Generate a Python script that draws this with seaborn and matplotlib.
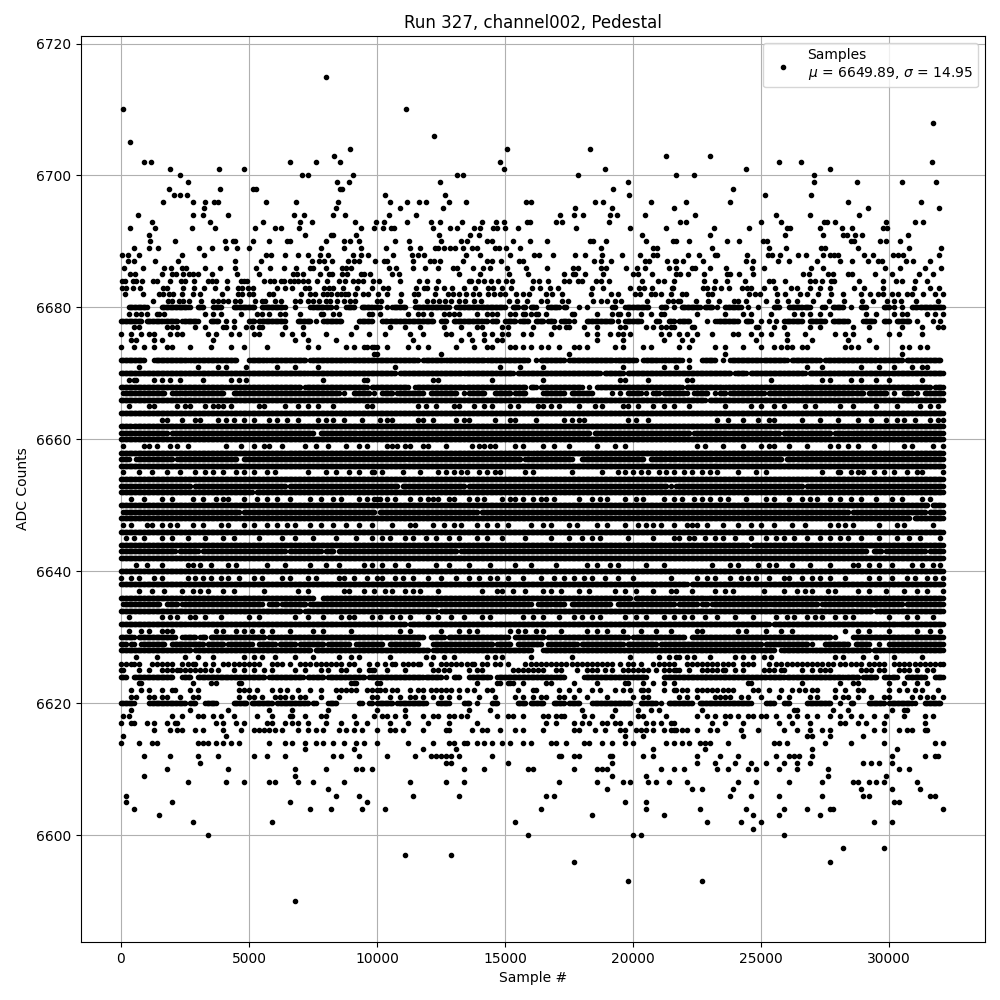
import numpy as np
import pandas as pd
import matplotlib
matplotlib.use("Agg")
import matplotlib.pyplot as plt
import seaborn as sns

# The original holds about 32000 samples. All values below are estimates read
# from the picture: isolated points per ADC level, and for the saturated bands
# the stretches of sample numbers each level covers (in hundreds of samples).
# Individual samples inside a band cannot be told apart, so a band is drawn as
# evenly spaced samples across its stretch.

TITLE = "Run 327, channel002, Pedestal"
XLABEL = "Sample #"
YLABEL = "ADC Counts"
LEGEND = "Samples\n$\\mu$ = 6649.89, $\\sigma$ = 14.95"

# --- isolated samples, sample numbers ---
pts_6715 = [8010]
pts_6710 = [80, 11130]
pts_6708 = [31720]
pts_6706 = [12230]
pts_6705 = [350]
pts_6704 = [8950, 15080, 18320]
pts_6703 = [8320, 21290, 23010]
pts_6702 = [900, 1170, 6600, 7620, 8560, 14800, 25700, 26560, 31680]
pts_6701 = [1910, 3830, 4800, 14960, 18910, 24410, 27700]
pts_6700 = [2300, 7070, 7300, 9060, 13120, 13360, 17850, 21680, 22380, 27070]
pts_6699 = [2620, 8440, 8910, 12460, 19800, 27070, 28750, 30510, 31840]
pts_6698 = [1880, 3870, 5160, 5290, 8560, 8640, 19220, 23910]
pts_6697 = [2070, 2300, 2580, 10310, 12660, 19840, 25160, 26950]
pts_6696 = [1640, 2820, 3280, 3640, 3790, 5670, 6840, 8480, 10510, 11170, 11640, 11910, 12810, 13480, 15820, 16020,
            18510, 18830, 20700, 22070, 23790, 28400, 31250]
pts_6695 = [3240, 8400, 10900, 12580, 17730, 19180, 21600, 29180, 31950]
pts_6694 = [670, 2820, 3210, 4190, 6760, 7150, 8300, 8760, 10470, 11520, 17150, 17680, 18040, 19100, 19370, 20470,
            22420, 25590, 26910, 28830]
pts_6693 = [1210, 3480, 5550, 7000, 7470, 9150, 9970, 10270, 11170, 12110, 12460, 13320, 14100, 14650, 14960, 15860,
            15980, 16990, 17230, 19060, 21840, 22070, 25000, 25780, 27460, 27580, 27890, 29880, 31020, 31330]
pts_6692 = [350, 1330, 2780, 3680, 5240, 6020, 6250, 6960, 9390, 9890, 10230, 10550, 10660, 12190, 12850, 13120, 13790,
            14020, 14520, 14690, 15000, 15510, 17770, 19880, 21290, 23160, 24530, 26020, 26130, 27300, 28160, 28550,
            29770, 29920]
pts_6691 = [1090, 7200, 8210, 8290, 9190, 12420, 13630, 13980, 20350, 23010, 25940, 27420, 28200, 28360, 28670, 28940,
            30740]
pts_6690 = [1130, 2110, 4070, 4380, 4460, 5160, 5790, 6490, 6600, 8010, 8720, 8950, 9300, 10700, 11250, 12500, 13280,
            13520, 14300, 14490, 15310, 15980, 16640, 18320, 18440, 18950, 20510, 21560, 21680, 22190, 23670, 24140,
            25080, 25230, 28520, 28630, 29650, 29880, 30430]
pts_6689 = [510, 1090, 1450, 3050, 3560, 4100, 4540, 5000, 7820, 8720, 9390, 10350, 11290, 11680, 12270, 12380, 12620,
            12850, 13050, 13360, 13710, 13910, 14610, 14770, 15040, 15590, 18750, 20780, 20940, 23090, 25310, 25980,
            27340, 27500, 28790, 30780, 32030]
pts_6688 = [40, 270, 700, 2380, 3240, 5670, 5860, 6410, 6920, 7310, 7780, 8090, 9060, 9390, 9660, 10620, 11370, 11600,
            11840, 13480, 14020, 15200, 16130, 16330, 16870, 17730, 18120, 18790, 19570, 20270, 20780, 20940, 22150,
            22580, 23200, 23280, 24450, 25270, 25430, 25740, 26450, 26760, 27420, 27700, 27850, 28010, 29020, 29370,
            30160, 30350, 30550, 31950]
pts_6687 = [270, 510, 1330, 2230, 4460, 5470, 7470, 7740, 7930, 8250, 8870, 9110, 9300, 9930, 10270, 10390, 11410,
            12070, 12230, 12460, 13360, 14300, 14490, 14840, 15550, 15700, 18480, 18750, 19140, 20470, 20630, 21330,
            21680, 21640, 21950, 22730, 24410, 24690, 25660, 26090, 27190, 28090, 28550, 29180, 29570, 29730, 30660,
            30940, 31600]
pts_6686 = [120, 860, 1680, 1950, 2380, 2550, 3280, 3870, 4460, 5280, 5820, 6370, 6840, 7380, 7500, 8010, 8640, 8790,
            8990, 10470, 10740, 11410, 11870, 12380, 12970, 13120, 13750, 14140, 14410, 15080, 15820, 16640, 17660,
            17850, 18750, 18950, 19730, 20160, 20470, 21400, 21680, 22300, 22420, 23010, 23630, 24650, 25120, 26950,
            27420, 29840, 30430, 31400, 32030]
pts_6685 = [350, 550, 1600, 1990, 2150, 2420, 2660, 2820, 3010, 3560, 4530, 5390, 6720, 6880, 7110, 7780, 8130, 8250,
            8640, 8830, 9390, 9500, 9730, 10590, 10860, 13200, 14020, 15160, 15900, 17300, 17660, 17730, 18120, 18830,
            20000, 20190, 20740, 21680, 21840, 22150, 22770, 23670, 23790, 24140, 24690, 26640, 26870, 27620, 27810,
            28400, 28550, 29450, 30120, 31170, 31720]
pts_6684 = [40, 160, 470, 600, 820, 1250, 1410, 1910, 2340, 2500, 2850, 3400, 3560, 3710, 4140, 4690, 4800, 4920, 5590,
            5820, 5980, 6250, 6370, 6600, 6760, 6920, 7110, 7310, 7660, 8050, 8520, 8740, 9060, 9260, 9460, 9850, 10080,
            10900, 11640, 11950, 12380, 13590, 13670, 13950, 14180, 14450, 14730, 15040, 15270, 16090, 16330, 16680,
            17300, 17500, 17850, 18010, 18550, 18750, 19060, 20350, 20980, 21210, 21600, 22770, 23200, 23670, 24380,
            25310, 25470, 25940, 26910, 27110, 27380, 27730, 27850, 28830, 29770, 30270, 30510, 31020, 31480]
pts_6683 = [40, 200, 470, 740, 1640, 1800, 2420, 2850, 3240, 3680, 4140, 4570, 4730, 4960, 5160, 6090, 6410, 6680, 7190,
            7350, 7930, 8130, 8280, 8680, 9220, 9810, 10230, 10430, 11520, 11840, 11950, 12300, 12620, 12930, 13400,
            13830, 14340, 14530, 14880, 15230, 16050, 16370, 16760, 17070, 18400, 18830, 19880, 20230, 20430, 20740,
            21520, 21560, 22730, 22890, 23160, 23440, 23750, 24260, 24450, 24610, 25120, 25550, 26170, 26410, 26910,
            27300, 27700, 28630, 29020, 29770, 30980, 31600, 31950]
pts_6682 = [160, 860, 1490, 1640, 1880, 2030, 2380, 2820, 3090, 3950, 4570, 4730, 5000, 5160, 5790, 5940, 7030, 7380,
            7580, 7890, 8050, 8210, 8440, 8600, 8760, 8870, 9150, 9460, 9660, 10040, 10390, 10940, 11450, 11600, 12270,
            12770, 12970, 13200, 13480, 13750, 13980, 14340, 14570, 14800, 15000, 15430, 15700, 15940, 16600, 16840,
            17230, 18360, 19140, 19410, 20080, 20270, 20700, 20860, 21100, 21480, 21910, 22070, 22930, 23090, 24530,
            24770, 24960, 25620, 25940, 26520, 26800, 27230, 27730, 28200, 28910, 29260, 29570, 29770, 30120, 30350,
            30700, 30900, 31330, 31800, 32110]
pts_6681 = [1250, 1840, 1990, 2270, 2420, 2660, 3130, 3600, 3790, 3990, 4190, 4460, 4650, 5240, 5510, 5630, 6020, 6250,
            6800, 7000, 7310, 7500, 7740, 8010, 8170, 8440, 8720, 8950, 9150, 10000, 10160, 10900, 11480, 11950, 12190,
            12420, 12660, 12890, 13200, 13440, 13790, 14060, 15160, 15470, 15860, 16410, 16640, 17230, 17460, 18440,
            18750, 18980, 19300, 19530, 20550, 21370, 21560, 21760, 21840, 22460, 22930, 23360, 23950, 24100, 24410,
            25200, 25620, 26050, 26410, 27030, 27660, 28240, 28940, 29370, 29920, 30200, 30470, 31050, 31910]

# --- isolated samples, in hundreds of samples ---
hun_6679 = [3, 6, 8, 10, 14, 15, 17, 33, 36, 39, 47, 53, 55, 58, 62, 64, 70, 78, 79, 83, 85, 97, 98, 101, 112, 116, 118,
            121, 126, 128, 130, 132, 139, 143, 145, 147, 152, 154, 157, 158, 160, 162, 163, 166, 176, 177, 186, 192,
            194, 195, 198, 203, 207, 211, 212, 225, 236, 243, 246, 254, 263, 266, 269, 273, 277, 291, 295, 302, 305,
            307, 315, 318, 321]
hun_6677 = [5, 7, 18, 20, 22, 29, 33, 40, 41, 44, 49, 51, 54, 55, 64, 71, 92, 105, 111, 117, 126, 133, 139, 141, 149,
            151, 161, 169, 171, 174, 175, 181, 186, 195, 197, 205, 208, 211, 213, 216, 215, 223, 224, 248, 249, 255,
            259, 269, 273, 286, 292, 305, 313, 319, 321]
hun_6676 = [0, 4, 8, 11, 13, 19, 22, 24, 34, 37, 43, 46, 52, 54, 63, 67, 71, 80, 90, 97, 103, 113, 118, 127, 129, 136,
            142, 145, 149, 151, 157, 160, 168, 182, 186, 191, 194, 196, 199, 211, 214, 218, 221, 225, 231, 239, 241,
            246, 250, 254, 260, 267, 279, 283, 286, 300, 304, 313]
hun_6675 = [4, 6, 13, 16, 36, 68, 73, 84, 114, 133, 137, 142, 147, 149, 186, 196, 212, 219, 223, 248, 260, 270, 284, 292]
hun_6674 = [0, 5, 9, 13, 18, 20, 27, 35, 43, 48, 57, 73, 77, 88, 91, 95, 96, 98, 100, 99, 104, 112, 116, 120, 131, 138,
            143, 145, 152, 154, 157, 160, 164, 167, 171, 177, 179, 182, 193, 196, 204, 207, 218, 222, 232, 236, 243,
            250, 255, 258, 260, 262, 266, 268, 283, 285, 288, 295, 305, 308, 312, 315]
hun_6673 = [99, 100, 125, 175, 236, 305]
hun_6671 = [7, 30, 38, 41, 49, 61, 68, 77, 107, 148, 156, 165, 196, 212, 217, 222, 268, 274, 289, 296, 302, 309, 313, 315]
hun_6669 = [3, 5, 6, 13, 16, 19, 23, 32, 43, 46, 49, 79, 95, 96, 122, 124, 145, 165, 195, 197, 206, 221, 223, 254, 274,
            277, 285, 289, 295, 300, 313]
hun_6665 = [3, 11, 13, 22, 25, 27, 33, 36, 38, 40, 43, 54, 56, 64, 69, 73, 77, 83, 96, 98, 116, 119, 123, 130, 132, 138,
            142, 145, 152, 155, 163, 165, 168, 171, 179, 185, 188, 196, 198, 202, 208, 212, 216, 222, 236, 246, 250,
            255, 259, 267, 271, 281, 286, 295, 303, 312, 316, 319]
hun_6663 = [16, 18, 24, 29, 31, 38, 41, 44, 48, 52, 58, 61, 65, 69, 77, 80, 83, 87, 94, 101, 104, 106, 116, 118, 122,
            131, 134, 136, 146, 152, 154, 162, 173, 176, 179, 181, 198, 201, 206, 233, 237, 243, 249, 253, 255, 266,
            273, 280, 288, 293, 299, 303, 306, 310, 316, 319, 321]
hun_6659 = [1, 9, 11, 14, 19, 22, 26, 41, 47, 52, 56, 58, 63, 72, 76, 81, 88, 93, 96, 104, 106, 108, 111, 113, 118, 120,
            127, 137, 140, 142, 144, 146, 154, 157, 165, 169, 175, 186, 193, 197, 225, 228, 235, 243, 250, 253, 255,
            261, 268, 277, 280, 284, 288, 294, 306, 309, 317, 321]
hun_6655 = [1, 7, 12, 18, 23, 29, 33, 36, 40, 45, 48, 52, 57, 60, 73, 80, 84, 89, 93, 98, 99, 102, 110, 117, 124, 127,
            130, 133, 135, 140, 143, 146, 148, 158, 161, 176, 188, 194, 197, 200, 203, 206, 210, 213, 216, 220, 223,
            227, 230, 233, 241, 248, 252, 274, 280, 281, 285, 288, 290, 294, 298, 302, 307, 311, 313, 321]
hun_6651 = [4, 9, 16, 20, 28, 32, 37, 40, 42, 48, 53, 57, 61, 66, 74, 78, 83, 86, 93, 96, 100, 99, 101, 104, 107, 113,
            117, 120, 122, 124, 128, 130, 136, 139, 142, 149, 152, 154, 157, 161, 164, 166, 169, 179, 184, 187, 190,
            197, 201, 204, 212, 216, 219, 224, 227, 230, 234, 237, 244, 252, 255, 261, 266, 269, 272, 277, 281, 285,
            289, 295, 301, 305, 313, 316]
hun_6647 = [1, 4, 10, 12, 16, 19, 22, 28, 32, 39, 42, 48, 52, 57, 61, 65, 68, 74, 78, 83, 88, 93, 98, 106, 113, 115, 122,
            126, 130, 133, 139, 143, 147, 151, 160, 165, 168, 175, 178, 186, 190, 197, 202, 205, 208, 211, 216, 221,
            223, 225, 229, 235, 241, 246, 250, 255, 262, 267, 277, 280, 283, 286, 296, 303, 306, 317]
hun_6645 = [2, 5, 9, 16, 20, 26, 33, 40, 44, 54, 63, 68, 75, 84, 92, 98, 102, 105, 111, 114, 119, 123, 128, 132, 139,
            143, 149, 158, 168, 175, 180, 184, 187, 198, 208, 216, 218, 222, 224, 228, 232, 235, 240, 246, 252, 256,
            259, 263, 268, 273, 277, 281, 284, 289, 296, 303, 308, 312, 320]
hun_6641 = [6, 10, 16, 26, 28, 31, 35, 42, 45, 57, 64, 74, 80, 85, 95, 98, 102, 107, 112, 123, 128, 136, 144, 154, 160,
            170, 182, 186, 191, 194, 205, 212, 231, 238, 241, 249, 253, 256, 262, 269, 277, 286, 288, 292, 296, 301,
            309, 313, 317, 320]
hun_6639 = [0, 4, 7, 13, 16, 26, 29, 32, 35, 39, 42, 46, 52, 55, 63, 66, 73, 76, 85, 87, 91, 96, 100, 102, 107, 110, 114,
            120, 125, 131, 136, 140, 144, 147, 151, 157, 164, 169, 173, 177, 181, 184, 189, 194, 200, 215, 225, 229,
            232, 238, 242, 245, 248, 253, 259, 261, 266, 270, 273, 277, 283, 292, 296, 301, 307, 310, 315, 318, 321]
hun_6637 = [7, 12, 17, 24, 28, 31, 34, 40, 44, 56, 69, 73, 87, 89, 95, 99, 103, 106, 111, 114, 117, 124, 141, 147, 149,
            153, 158, 165, 168, 172, 179, 183, 193, 197, 201, 208, 215, 217, 223, 232, 236, 239, 251, 259, 264, 267,
            270, 276, 279, 288, 292, 299, 306, 311, 315, 321]
hun_6633 = [3, 16, 19, 22, 27, 29, 33, 39, 50, 54, 68, 73, 79, 86, 89, 91, 98, 101, 106, 109, 113, 120, 124, 129, 134,
            141, 144, 157, 161, 165, 171, 177, 180, 184, 187, 197, 201, 205, 212, 216, 220, 223, 228, 233, 240, 247,
            256, 260, 263, 268, 271, 274, 279, 283, 286, 300, 307, 311, 317]
hun_6631 = [3, 8, 11, 16, 18, 20, 37, 40, 45, 48, 51, 55, 59, 66, 75, 79, 90, 109, 113, 125, 132, 136, 139, 152, 155,
            158, 162, 165, 172, 182, 186, 190, 196, 203, 209, 215, 225, 227, 241, 244, 252, 258, 262, 283, 288, 292,
            300, 311, 316, 320]
hun_6627 = [6, 14, 25, 30, 36, 48, 52, 55, 60, 68, 75, 85, 90, 93, 105, 119, 122, 126, 130, 143, 146, 149, 160, 176, 199,
            210, 214, 217, 218, 221, 224, 230, 240, 243, 247, 251, 254, 279, 282, 290, 295, 302, 313]
hun_6626 = [0, 2, 4, 5, 7, 12, 14, 16, 18, 20, 24, 26, 28, 29, 33, 36, 40, 42, 44, 46, 48, 50, 52, 54, 59, 61, 63, 66, 70,
            72, 74, 76, 78, 80, 82, 84, 86, 89, 91, 97, 100, 103, 106, 107, 110, 112, 114, 116, 117, 121, 125, 127, 129,
            131, 133, 135, 137, 138, 141, 143, 146, 148, 151, 158, 160, 162, 164, 166, 168, 170, 172, 174, 176, 178,
            180, 182, 184, 186, 188, 190, 192, 195, 198, 200, 203, 208, 210, 212, 214, 216, 221, 223, 225, 227, 229,
            231, 233, 235, 237, 239, 243, 245, 247, 253, 256, 258, 260, 262, 264, 266, 268, 270, 272, 274, 276, 278,
            281, 283, 285, 287, 289, 292, 294, 296, 298, 302, 304, 306, 308, 310, 312, 314, 316, 318, 320, 321]
hun_6625 = [0, 1, 7, 11, 16, 18, 20, 22, 23, 25, 27, 29, 31, 33, 35, 38, 44, 48, 52, 56, 59, 68, 72, 78, 81, 86, 88, 93,
            98, 97, 99, 104, 111, 122, 124, 126, 128, 136, 139, 141, 153, 155, 157, 159, 161, 163, 165, 170, 172, 178,
            182, 184, 186, 189, 192, 196, 198, 200, 202, 204, 206, 209, 212, 214, 217, 216, 218, 222, 227, 229, 231,
            233, 235, 236, 240, 243, 251, 253, 255, 258, 259, 266, 270, 273, 275, 277, 289, 291, 293, 296, 298, 304,
            306, 308, 311, 315, 317]
hun_6623 = [7, 8, 28, 35, 37, 46, 47, 90, 91, 92, 100, 101, 139, 147, 148, 151, 152, 153, 157, 166, 168, 177, 186, 197,
            198, 204, 208, 212, 216, 245, 246, 266, 281, 286, 288, 300, 306, 311, 315]
hun_6622 = [4, 8, 11, 16, 20, 21, 27, 30, 46, 48, 50, 53, 59, 62, 65, 69, 74, 78, 84, 86, 88, 90, 92, 96, 98, 101, 100,
            103, 106, 108, 113, 116, 118, 121, 123, 125, 127, 129, 132, 135, 138, 143, 145, 155, 161, 162, 171, 175,
            179, 184, 187, 193, 196, 199, 203, 204, 206, 212, 216, 217, 219, 221, 225, 227, 229, 231, 233, 235, 237,
            239, 247, 249, 253, 258, 262, 265, 267, 270, 272, 279, 283, 288, 290, 300, 304, 307, 310, 313, 319]
hun_6621 = [4, 6, 11, 13, 16, 18, 23, 28, 30, 46, 50, 52, 55, 60, 62, 64, 67, 70, 72, 78, 85, 98, 100, 105, 109, 113,
            115, 118, 122, 125, 128, 132, 140, 146, 154, 157, 161, 164, 166, 171, 173, 177, 182, 190, 200, 204, 206,
            218, 221, 225, 232, 234, 236, 238, 242, 245, 250, 257, 261, 269, 272, 279, 282, 284, 288, 293, 298, 300,
            309, 312, 315, 317, 321]
hun_6619 = [4, 27, 42, 58, 67, 81, 100, 111, 136, 144, 180, 193, 202, 207, 210, 227, 263, 264, 278, 284, 301, 306, 307]
hun_6618 = [1, 3, 20, 24, 30, 32, 36, 39, 44, 53, 59, 66, 67, 72, 78, 80, 91, 99, 102, 104, 107, 111, 118, 122, 124, 128,
            130, 133, 135, 147, 151, 153, 157, 165, 167, 170, 172, 173, 181, 184, 192, 202, 204, 213, 225, 229, 232,
            236, 238, 241, 245, 247, 250, 252, 256, 261, 264, 268, 272, 277, 281, 285, 289, 294, 299, 306, 314, 317]
hun_6617 = [0, 4, 5, 10, 13, 18, 21, 22, 37, 40, 45, 48, 57, 59, 64, 67, 69, 73, 80, 86, 92, 96, 105, 112, 120, 128, 139,
            166, 170, 177, 180, 183, 188, 190, 193, 195, 199, 205, 208, 211, 215, 216, 231, 236, 243, 257, 262, 269,
            281, 283, 288, 291, 298, 314]
hun_6616 = [13, 19, 22, 24, 29, 32, 40, 47, 52, 54, 56, 58, 60, 63, 69, 73, 76, 79, 85, 88, 91, 94, 100, 105, 107, 110,
            118, 127, 128, 137, 141, 143, 148, 154, 157, 165, 177, 179, 185, 189, 195, 197, 201, 203, 205, 208, 212,
            216, 215, 217, 219, 221, 225, 230, 233, 242, 249, 259, 264, 269, 274, 277, 294, 298, 304, 307, 309, 314, 315]
hun_6615 = [1, 41, 197, 204, 243, 268, 270, 277, 290]
hun_6614 = [0, 7, 12, 14, 30, 32, 34, 37, 40, 43, 46, 58, 64, 67, 72, 76, 79, 83, 87, 92, 95, 100, 112, 122, 128, 130,
            134, 135, 139, 142, 145, 149, 152, 157, 160, 168, 170, 174, 181, 183, 188, 192, 197, 200, 213, 216, 219,
            222, 226, 228, 230, 237, 255, 257, 260, 275, 285, 298, 318, 321]
hun_6613 = [72, 91, 118, 131, 208, 228, 270, 303]
hun_6612 = [9, 19, 30, 38, 52, 57, 64, 83, 86, 93, 104, 115, 121, 123, 125, 127, 129, 132, 145, 171, 172, 177, 179, 191,
            192, 204, 208, 225, 234, 241, 256, 261, 263, 265, 270, 301, 314, 318, 319]
hun_6611 = [31, 127, 129, 151, 192, 225, 232, 240, 246, 252, 259, 264, 269, 290, 293, 296, 301]
hun_6610 = [18, 42, 68, 80, 92, 94, 98, 134, 142, 159, 161, 177, 186, 188, 190, 211, 216, 220, 233, 237, 245, 248, 257,
            264, 276, 304, 308]
hun_6609 = [9, 68, 192, 205, 276, 299]
hun_6608 = [26, 41, 48, 58, 60, 69, 75, 87, 113, 127, 134, 171, 186, 196, 199, 206, 209, 214, 221, 241, 248, 261, 274,
            286, 288, 292, 295, 298, 311]
hun_6607 = [81, 190, 223, 227, 239, 289, 301, 312]
hun_6606 = [2, 84, 93, 114, 132, 166, 169, 238, 246, 257, 274, 290, 292, 316, 318]
hun_6605 = [2, 20, 66, 96, 197, 205, 302, 304]
hun_6604 = [5, 74, 82, 94, 103, 164, 205, 226, 244, 259, 268, 277, 278, 321]
hun_6603 = [15, 184, 212, 247, 257, 273]
hun_6602 = [28, 59, 154, 229, 242, 250, 294, 301]
hun_6601 = [247]
hun_6600 = [34, 159, 200, 203, 259]
hun_6598 = [282, 298]
hun_6597 = [111, 129]
hun_6596 = [177, 277]
hun_6593 = [198, 227]
hun_6590 = [68]

# --- stretches of sample numbers per level, in hundreds of samples ---
run_6680 = [(3,10),(16,26),(27,27),(30,32),(36,39),(44,52),(55,63),(64,64),(68,68),(74,79),(80,82),(84,84),(88,91),(94,98),
            (99,101),(104,104),(106,111),(115,128),(131,150),(153,155),(157,158),(160,162),(167,171),(173,174),(179,179),
            (182,182),(192,193),(197,206),(211,213),(216,216),(219,226),(228,231),(233,233),(236,242),(245,245),(249,249),
            (255,257),(261,266),(267,269),(274,275),(278,282),(285,285),(289,291),(298,300),(302,302),(305,305),(309,311),(312,321)]
run_6678 = [(0,8),(10,16),(17,22),(24,30),(35,38),(41,41),(44,44),(50,52),(54,64),(69,74),(76,76),(79,86),(93,98),(102,104),
            (105,122),(125,127),(130,141),(142,143),(145,147),(150,154),(156,159),(162,165),(167,169),(172,175),(177,177),
            (182,192),(194,194),(197,203),(209,210),(214,216),(218,222),(229,229),(232,232),(233,241),(244,246),(250,250),
            (253,253),(256,256),(259,266),(269,275),(278,284),(290,294),(298,300),(303,308),(311,311),(317,317),(320,320)]
run_6672 = [(0,9),(13,26),(27,45),(50,57),(58,72),(74,89),(90,116),(118,126),(127,142),(143,159),(162,162),(164,173),(175,192),
            (193,201),(204,210),(211,214),(215,219),(222,222),(227,232),(235,235),(238,250),(251,260),(262,273),(275,295),(296,305),(307,320)]
run_6670 = [(0,73),(74,107),(109,133),(134,153),(155,187),(189,196),(198,238),(240,244),(246,267),(269,300),(301,321)]
run_6668 = [(0,41),(42,70),(72,96),(98,112),(115,134),(135,158),(160,162),(164,180),(183,183),(186,219),(221,235),(236,265),
            (266,271),(272,308),(309,316),(318,321)]
run_6667 = [(1,17),(20,23),(24,26),(27,40),(44,85),(87,87),(91,97),(99,99),(102,106),(108,118),(121,131),(134,134),(136,142),
            (146,152),(154,158),(165,173),(176,184),(192,192),(195,195),(198,203),(205,205),(208,210),(212,220),(221,221),
            (224,229),(232,232),(234,236),(238,247),(248,251),(253,264),(265,279),(279,286),(287,290),(292,299),(302,302),
            (306,309),(311,311),(314,321)]
run_6666 = [(0,228),(230,258),(259,321)]
run_6664 = [(0,321)]
run_6662 = [(0,4),(5,321)]
run_6661 = [(0,18),(20,75),(78,92),(93,183),(185,222),(224,237),(238,254),(255,257),(259,263),(264,267),(268,277),(279,282),(283,285),(286,321)]
run_6660 = [(0,321)]
run_6658 = [(0,64),(65,160),(161,309),(310,321)]
run_6657 = [(0,3),(6,20),(22,45),(48,111),(112,156),(158,176),(180,204),(207,213),(214,217),(218,231),(232,258),(260,263),(264,321)]
run_6656 = [(0,321)]
run_6654 = [(0,321)]
run_6653 = [(0,27),(29,64),(66,108),(110,134),(136,213),(215,215),(217,266),(268,321)]
run_6652 = [(0,51),(53,321)]
run_6650 = [(0,315),(317,321)]
run_6649 = [(1,46),(48,99),(101,139),(141,284),(286,314),(316,321)]
run_6648 = [(0,308),(310,321)]
run_6646 = [(0,321)]
run_6644 = [(0,245),(247,321)]
run_6643 = [(0,21),(23,30),(32,64),(66,78),(80,83),(85,131),(133,291),(294,297),(299,314),(316,321)]
run_6642 = [(0,321)]
run_6640 = [(0,321)]
run_6638 = [(0,221),(223,321)]
run_6636 = [(0,24),(25,46),(47,75),(79,199),(201,210),(211,228),(229,321)]
run_6635 = [(1,15),(18,22),(24,55),(58,61),(63,72),(74,100),(101,105),(106,151),(152,160),(163,168),(169,173),(176,191),(194,204),
            (205,216),(218,225),(227,229),(231,253),(254,264),(265,272),(274,286),(287,294),(294,305),(307,321)]
run_6634 = [(0,70),(72,123),(125,293),(295,321)]
run_6632 = [(0,26),(27,85),(86,111),(113,145),(146,253),(255,295),(296,303),(304,321)]
run_6630 = [(0,5),(7,21),(24,29),(31,33),(35,56),(58,60),(61,102),(103,107),(108,118),(121,126),(128,151),(154,165),(167,172),
            (173,198),(200,220),(223,252),(253,277),(279,279),(286,299),(300,321)]
run_6629 = [(0,2),(4,5),(8,17),(20,32),(34,40),(42,51),(54,60),(62,68),(70,79),(81,89),(92,102),(105,116),(122,145),(147,152),
            (155,164),(167,178),(180,196),(198,209),(211,250),(252,268),(270,270),(275,284),(287,292),(296,296),(300,321)]
run_6628 = [(0,27),(29,74),(76,120),(122,160),(165,255),(258,269),(270,292),(294,298),(299,321)]
run_6624 = [(0,2),(5,20),(24,27),(30,56),(58,71),(73,79),(81,95),(97,118),(119,125),(127,127),(130,132),(136,144),(147,169),
            (170,173),(181,198),(199,205),(212,228),(228,252),(253,259),(260,269),(270,282),(283,288),(290,295),(298,300),
            (301,303),(307,314),(318,321)]
run_6620 = [(0,5),(11,25),(27,29),(33,37),(44,49),(51,59),(61,73),(75,76),(81,84),(93,94),(97,98),(100,106),(108,119),(124,128),
            (134,136),(139,139),(145,147),(155,158),(160,165),(169,173),(175,179),(184,199),(203,209),(211,211),(214,223),
            (226,246),(252,255),(259,261),(268,277),(281,281),(285,286),(292,298),(300,309),(310,310),(314,320)]

xs, ys = [], []
for name, values in list(globals().items()):
    if name.startswith("pts_"):
        xs.extend(values)
        ys.extend([int(name[4:])] * len(values))
    elif name.startswith("hun_"):
        xs.extend(v * 100 for v in values)
        ys.extend([int(name[4:])] * len(values))
    elif name.startswith("run_"):
        for start, end in values:
            stretch = np.arange(start * 100, end * 100 + 1, 50)
            xs.extend(stretch.tolist())
            ys.extend([int(name[4:])] * len(stretch))

samples = pd.DataFrame({"sample": xs, "adc": ys})

fig, ax = plt.subplots(figsize=(10, 10), dpi=100)
sns.scatterplot(data=samples, x="sample", y="adc", color="black", marker=".", s=36,
                edgecolor="black", linewidth=1, label=LEGEND, ax=ax, zorder=2)
ax.set_xlim(-1560, 33750)
ax.set_ylim(6583.8, 6721.14)
ax.grid(True)
ax.set_title(TITLE)
ax.set_xlabel(XLABEL)
ax.set_ylabel(YLABEL)
ax.legend(loc="upper right")
fig.subplots_adjust(left=0.081, right=0.985, top=0.964, bottom=0.058)
fig.savefig("out.png", dpi=100)
